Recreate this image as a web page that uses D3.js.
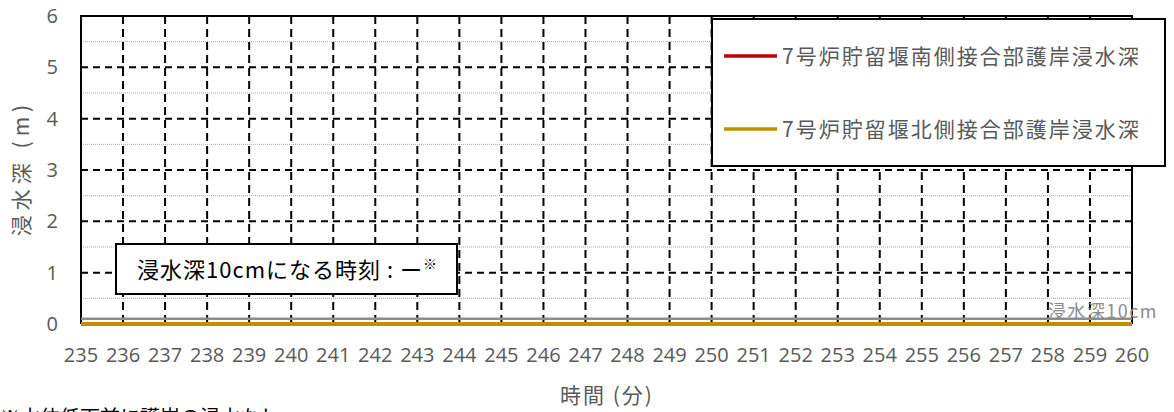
<!DOCTYPE html>
<html>
<head>
<meta charset="utf-8">
<script src="https://cdn.jsdelivr.net/npm/d3@7"></script>
<style>
  html, body { margin: 0; padding: 0; background: #fff; overflow: hidden; }
  svg { display: block; font-family: "Noto Sans CJK JP", "Noto Sans", sans-serif; }
</style>
</head>
<body>
<div id="chart"></div>
<script>
// data
const minutes = d3.range(235, 261);
const southDepth = minutes.map(() => 0);
const northDepth = minutes.map(() => 0);
const yTicks = [0, 1, 2, 3, 4, 5, 6];
const yHalfTicks = [0.5, 1.5, 2.5, 3.5, 4.5, 5.5];
const threshold = 0.1;
const seriesNames = ["7号炉貯留堰南側接合部護岸浸水深", "7号炉貯留堰北側接合部護岸浸水深"];
const seriesColors = ["#C00000", "#BF8F00"];

const width = 1174, height = 412;
const margin = { left: 81, right: 42, top: 16, bottom: 88 };

const svg = d3.select("#chart").append("svg")
    .attr("width", width)
    .attr("height", height);

const x = d3.scaleLinear().domain([235, 260]).range([margin.left, width - margin.right]);
const y = d3.scaleLinear().domain([0, 6]).range([height - margin.bottom, margin.top]);

// gray dotted half-grid
svg.append("g").selectAll("line")
    .data(yHalfTicks)
    .join("line")
    .attr("x1", x(235)).attr("x2", x(260))
    .attr("y1", d => y(d)).attr("y2", d => y(d))
    .attr("stroke", "#A6A6A6")
    .attr("stroke-width", 1)
    .attr("stroke-dasharray", "1,1");

// horizontal dashed grid
svg.append("g").selectAll("line")
    .data(yTicks.filter(d => d > 0 && d < 6))
    .join("line")
    .attr("x1", x(235)).attr("x2", x(260))
    .attr("y1", d => y(d)).attr("y2", d => y(d))
    .attr("stroke", "#000")
    .attr("stroke-width", 2)
    .attr("stroke-dasharray", "7,5");

// vertical dashed grid
svg.append("g").selectAll("line")
    .data(minutes.filter(d => d > 235 && d < 260))
    .join("line")
    .attr("x1", d => x(d)).attr("x2", d => x(d))
    .attr("y1", y(6)).attr("y2", y(0))
    .attr("stroke", "#000")
    .attr("stroke-width", 2)
    .attr("stroke-dasharray", "8,5");

// frame
svg.append("path")
    .attr("d", `M${x(235)},${y(0)} V${y(6)} H${x(260)} V${y(0)}`)
    .attr("fill", "none")
    .attr("stroke", "#000")
    .attr("stroke-width", 2);

// threshold line 10cm
svg.append("line")
    .attr("x1", x(235)).attr("x2", x(260))
    .attr("y1", y(threshold)).attr("y2", y(threshold))
    .attr("stroke", "#8C8C8C")
    .attr("stroke-width", 2.5);

svg.append("text")
    .attr("x", x(260) + 26)
    .attr("y", y(threshold) - 1)
    .attr("text-anchor", "end")
    .attr("fill", "#8C8C8C")
    .attr("font-size", 18)
    .attr("letter-spacing", 1.5)
    .text("浸水深10cm");

// series
const line = d3.line().x((d, i) => x(minutes[i])).y(d => y(d));
[southDepth, northDepth].forEach((s, i) => {
    svg.append("path")
        .datum(s)
        .attr("d", line)
        .attr("fill", "none")
        .attr("stroke", seriesColors[i])
        .attr("stroke-width", 4);
});

// y axis labels
svg.append("g").selectAll("text")
    .data(yTicks)
    .join("text")
    .attr("x", 58)
    .attr("y", d => y(d) + 7)
    .attr("text-anchor", "end")
    .attr("fill", "#595959")
    .attr("font-size", 20)
    .attr("font-family", "Open Sans, Noto Sans, sans-serif")
    .text(d => d);

// x axis labels
svg.append("g").selectAll("text")
    .data(minutes)
    .join("text")
    .attr("x", d => x(d))
    .attr("y", 362)
    .attr("text-anchor", "middle")
    .attr("fill", "#595959")
    .attr("font-size", 20)
    .attr("font-family", "Open Sans, Noto Sans, sans-serif")
    .text(d => d);

// axis titles
svg.append("text")
    .attr("x", 607)
    .attr("y", 403)
    .attr("text-anchor", "middle")
    .attr("fill", "#595959")
    .attr("font-size", 21)
    .attr("letter-spacing", 2)
    .text("時間 (分)");

svg.append("text")
    .attr("transform", "translate(29,168) rotate(-90)")
    .attr("text-anchor", "middle")
    .attr("fill", "#595959")
    .attr("font-size", 21)
    .attr("letter-spacing", 5)
    .text("浸水深 (m)");

// legend
const legend = svg.append("g");
legend.append("rect")
    .attr("x", 712).attr("y", 19)
    .attr("width", 453).attr("height", 147)
    .attr("fill", "#fff")
    .attr("stroke", "#000")
    .attr("stroke-width", 2);
seriesNames.forEach((name, i) => {
    const ly = 56 + i * 73;
    legend.append("line")
        .attr("x1", 724).attr("x2", 777)
        .attr("y1", ly).attr("y2", ly)
        .attr("stroke", seriesColors[i])
        .attr("stroke-width", 3.5);
    legend.append("text")
        .attr("x", 782).attr("y", ly + 8)
        .attr("fill", "#595959")
        .attr("font-size", 21)
        .attr("letter-spacing", 2)
        .text(name);
});

// annotation box
svg.append("rect")
    .attr("x", 116).attr("y", 244)
    .attr("width", 341).attr("height", 50)
    .attr("fill", "#fff")
    .attr("stroke", "#000")
    .attr("stroke-width", 2);
const ann = svg.append("text")
    .attr("x", 137).attr("y", 278)
    .attr("fill", "#000")
    .attr("font-size", 22)
    .attr("letter-spacing", 1);
ann.append("tspan").text("浸水深10cmになる時刻 : ー");
ann.append("tspan").attr("font-size", 14).attr("dy", -9).text("※");

// footnote (partially cut off)
svg.append("text")
    .attr("x", 0).attr("y", 425)
    .attr("fill", "#000")
    .attr("font-size", 20)
    .text("※水位低下前に護岸の浸水なし");
</script>
</body>
</html>
